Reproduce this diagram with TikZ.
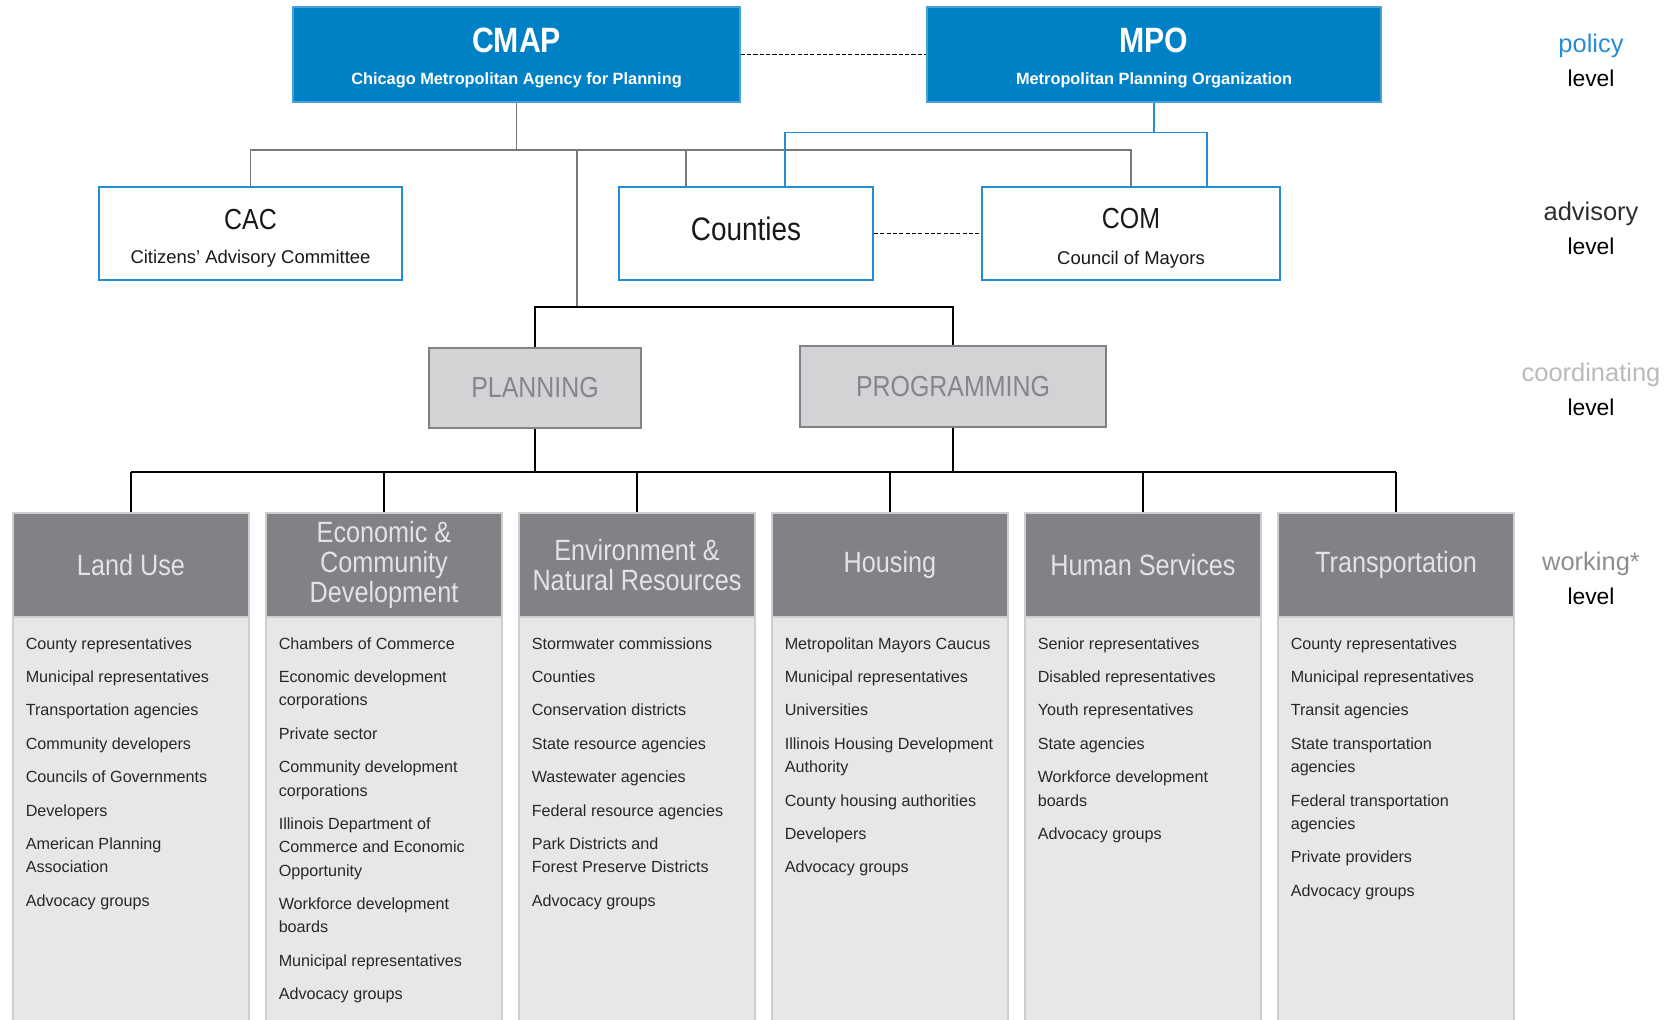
\documentclass[tikz,border=0pt]{standalone}
\usepackage{fontspec}
\setmainfont{Liberation Sans}
\newfontfamily\condfont[FakeStretch=0.86]{Liberation Sans}
\usetikzlibrary{positioning}
\definecolor{cmapblue}{RGB}{0,129,198}
\definecolor{cmapedge}{RGB}{70,160,220}
\definecolor{advblue}{RGB}{36,142,212}
\definecolor{advtext}{RGB}{25,25,25}
\definecolor{linkgray}{RGB}{120,120,120}
\definecolor{coordfill}{RGB}{209,211,212}
\definecolor{coordedge}{RGB}{128,130,133}
\definecolor{coordtext}{RGB}{132,134,137}
\definecolor{headgray}{RGB}{128,130,133}
\definecolor{headtext}{RGB}{226,227,229}
\definecolor{bodygray}{RGB}{230,231,232}
\definecolor{coledge}{RGB}{205,206,208}
\definecolor{itemtext}{RGB}{40,40,40}
\definecolor{policyblue}{RGB}{40,140,215}
\definecolor{advisorygray}{RGB}{45,45,45}
\definecolor{coordlabel}{RGB}{185,186,188}
\definecolor{worklabel}{RGB}{140,141,143}

\begin{document}
\begin{tikzpicture}[x=0.02cm, y=-0.02cm,
    policybox/.style={rectangle, fill=cmapblue, draw=cmapedge, line width=0.8pt, text=white, align=center, inner sep=0pt, minimum height=1.9cm, text height=36pt, text depth=2pt, font=\bfseries\fontsize{9.3}{18.2}\selectfont},
    advbox/.style={rectangle, fill=white, draw=advblue, line width=1.1pt, text=advtext, align=center, inner sep=0pt, minimum height=1.86cm, font=\fontsize{10.5}{19.3}\selectfont},
    coordbox/.style={rectangle, fill=coordfill, draw=coordedge, line width=1pt, text=coordtext, inner sep=0pt, font=\condfont\fontsize{16.5}{18}\selectfont},
    workhead/.style={rectangle, fill=headgray, draw=coledge, line width=0.7pt, text=headtext, align=center, inner sep=0pt, minimum width=4.72cm, minimum height=2.08cm, font=\condfont\fontsize{16.7}{17}\selectfont},
    workbody/.style={rectangle, fill=bodygray, draw=coledge, line width=0.9pt, minimum width=4.72cm, minimum height=10.3cm, inner sep=0pt},
    items/.style={anchor=north west, align=left, inner sep=0pt, text=itemtext, font=\fontsize{9.2}{13.3}\selectfont},
    graylink/.style={draw=linkgray, line width=0.9pt},
    bluelink/.style={draw=advblue, line width=0.9pt},
    worklink/.style={draw=black, line width=1pt},
    peerlink/.style={draw=black, line width=0.9pt, dash pattern=on 2.4pt off 1.2pt},
    lvl/.style={align=center, inner sep=0pt, font=\fontsize{14.5}{19.3}\selectfont}
]
\useasboundingbox (0,0) rectangle (1673,1019);

% policy level
\node[policybox, minimum width=8.94cm] (cmap) at (516.5,54.5) {{\condfont\fontsize{20}{20}\selectfont CMAP}\\Chicago Metropolitan Agency for Planning};
\node[policybox, minimum width=9.08cm] (mpo) at (1154,54.5) {{\condfont\fontsize{20}{20}\selectfont MPO}\\Metropolitan Planning Organization};

% advisory level
\node[advbox, minimum width=6.06cm, text height=36pt, text depth=2.2pt] (cac) at (250.5,233.5) {{\condfont\fontsize{16.5}{16.5}\selectfont CAC}\\Citizens' Advisory Committee};
\node[advbox, minimum width=5.08cm, text depth=5.7pt, font=\condfont\fontsize{18.5}{20}\selectfont] (counties) at (746,233.5) {Counties};
\node[advbox, minimum width=5.96cm, text height=38pt, text depth=2.2pt, font=\fontsize{10.5}{20.5}\selectfont] (com) at (1131,233.5) {{\condfont\fontsize{16.5}{16.5}\selectfont COM}\\Council of Mayors};

% coordinating level
\node[coordbox, minimum width=4.24cm, minimum height=1.6cm] (planning) at (535,388) {PLANNING};
\node[coordbox, minimum width=6.12cm, minimum height=1.62cm] (programming) at (953,386.5) {PROGRAMMING};

% working level
\node[workbody] (lubody) at (131,770.5) {};
\node[workbody] (ecbody) at (384,770.5) {};
\node[workbody] (enbody) at (637,770.5) {};
\node[workbody] (hobody) at (890,770.5) {};
\node[workbody] (hsbody) at (1143,770.5) {};
\node[workbody] (trbody) at (1396,770.5) {};

\node[workhead] (landuse) at (131,565) {Land Use};
\node[workhead] (econ) at (384,565) {Economic \&\\Community\\Development};
\node[workhead] (envir) at (637,565) {Environment \&\\Natural Resources};
\node[workhead] (housing) at (890,565) {Housing};
\node[workhead] (humserv) at (1143,565) {Human Services};
\node[workhead] (transp) at (1396,565) {Transportation};

\node[items] (lulist) at ([xshift=0.26cm, yshift=-0.39cm]landuse.south west) {County representatives\\[5.7pt]Municipal representatives\\[5.7pt]Transportation agencies\\[5.7pt]Community developers\\[5.7pt]Councils of Governments\\[5.7pt]Developers\\[5.7pt]American Planning\\Association\\[5.7pt]Advocacy groups};
\node[items] (eclist) at ([xshift=0.26cm, yshift=-0.39cm]econ.south west) {Chambers of Commerce\\[5.7pt]Economic development\\corporations\\[5.7pt]Private sector\\[5.7pt]Community development\\corporations\\[5.7pt]Illinois Department of\\Commerce and Economic\\Opportunity\\[5.7pt]Workforce development\\boards\\[5.7pt]Municipal representatives\\[5.7pt]Advocacy groups};
\node[items] (enlist) at ([xshift=0.26cm, yshift=-0.39cm]envir.south west) {Stormwater commissions\\[5.7pt]Counties\\[5.7pt]Conservation districts\\[5.7pt]State resource agencies\\[5.7pt]Wastewater agencies\\[5.7pt]Federal resource agencies\\[5.7pt]Park Districts and\\Forest Preserve Districts\\[5.7pt]Advocacy groups};
\node[items] (holist) at ([xshift=0.26cm, yshift=-0.39cm]housing.south west) {Metropolitan Mayors Caucus\\[5.7pt]Municipal representatives\\[5.7pt]Universities\\[5.7pt]Illinois Housing Development\\Authority\\[5.7pt]County housing authorities\\[5.7pt]Developers\\[5.7pt]Advocacy groups};
\node[items] (hslist) at ([xshift=0.26cm, yshift=-0.39cm]humserv.south west) {Senior representatives\\[5.7pt]Disabled representatives\\[5.7pt]Youth representatives\\[5.7pt]State agencies\\[5.7pt]Workforce development\\boards\\[5.7pt]Advocacy groups};
\node[items] (trlist) at ([xshift=0.26cm, yshift=-0.39cm]transp.south west) {County representatives\\[5.7pt]Municipal representatives\\[5.7pt]Transit agencies\\[5.7pt]State transportation\\agencies\\[5.7pt]Federal transportation\\agencies\\[5.7pt]Private providers\\[5.7pt]Advocacy groups};

% level labels
\node[lvl] (policylvl) at (1591,60) {\textcolor{policyblue}{policy}\\{\fontsize{13}{13}\selectfont level}};
\node[lvl, below=2.31cm of policylvl] (advlvl) {\textcolor{advisorygray}{advisory}\\{\fontsize{13}{13}\selectfont level}};
\node[lvl, below=2.15cm of advlvl] (coordlvl) {\textcolor{coordlabel}{coordinating}\\{\fontsize{13}{13}\selectfont level}};
\node[lvl, below=2.72cm of coordlvl] (worklvl) {\textcolor{worklabel}{working*}\\{\fontsize{13}{13}\selectfont level}};

% connectors
\coordinate (advhub) at (577,150);
\coordinate (coordhub) at (577,307);
\coordinate (workbus) at (131,472);
\draw[peerlink] (cmap) -- (mpo);
\draw[peerlink] (counties) -- (com);
\draw[graylink] (cac.north) |- (advhub) -| (com.north);
\draw[graylink] (cmap.south) -- (cmap.south |- advhub);
\draw[graylink] ([xshift=-1.2cm]counties.north) -- ([xshift=-1.2cm]counties.north |- advhub);
\draw[graylink] (advhub) -- (coordhub);
\draw[bluelink] (mpo.south) -- ++(0,30) coordinate (mpohub);
\draw[bluelink] ([xshift=0.78cm]counties.north) |- (mpohub) -| ([xshift=1.52cm]com.north);
\draw[worklink] (planning.north) |- (coordhub) -| (programming.north);
\draw[worklink, line width=1.4pt] (workbus) -- (workbus -| transp.north);
\draw[worklink] (planning.south) -- (planning.south |- workbus);
\draw[worklink] (programming.south) -- (programming.south |- workbus);
\foreach \col in {landuse,econ,envir,housing,humserv,transp}
  \draw[worklink] (\col.north) -- (\col.north |- workbus);
\end{tikzpicture}
\end{document}
